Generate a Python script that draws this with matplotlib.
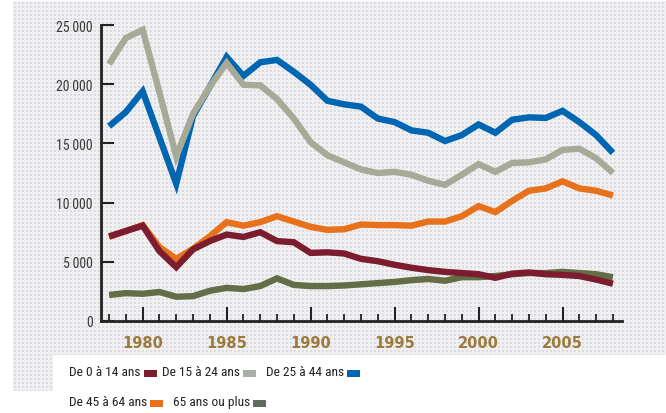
import numpy as np
import matplotlib
matplotlib.use("Agg")
import matplotlib.pyplot as plt
from matplotlib import font_manager
from matplotlib.patches import Rectangle

W, H = 666, 414

years = list(range(1978, 2009))

age_0_14 = [7150, 7600, 8050, 5900, 4550, 6050, 6750, 7300, 7100, 7500, 6750, 6650, 5750,
            5800, 5700, 5250, 5050, 4750, 4500, 4300, 4150, 4050, 3950, 3650, 4000, 4100,
            3950, 3900, 3800, 3500, 3150]
age_15_24 = [21700, 23900, 24600, 19300, 13900, 17500, 19800, 21800, 19950, 19900, 18750,
             17100, 15100, 14000, 13400, 12800, 12500, 12600, 12350, 11850, 11500, 12350,
             13250, 12600, 13350, 13400, 13650, 14450, 14550, 13750, 12500]
age_25_44 = [16450, 17650, 19400, 15500, 11600, 17300, 19800, 22300, 20700, 21850, 22050,
             21050, 19950, 18600, 18300, 18100, 17100, 16800, 16100, 15900, 15200, 15700,
             16600, 15900, 17000, 17200, 17150, 17750, 16800, 15700, 14200]
age_45_64 = [7100, 7600, 8100, 6250, 5250, 6100, 7150, 8350, 8050, 8350, 8850, 8400, 7950,
             7700, 7750, 8150, 8100, 8100, 8050, 8400, 8400, 8850, 9700, 9200, 10150, 11000,
             11200, 11800, 11200, 11000, 10600]
age_65_plus = [2200, 2350, 2300, 2450, 2050, 2100, 2550, 2800, 2700, 2950, 3600, 3050, 2950,
               2950, 3000, 3100, 3200, 3300, 3450, 3550, 3400, 3700, 3700, 3800, 3950, 4050,
               4050, 4150, 4050, 3950, 3700]

labels = ["De 0 à 14 ans", "De 15 à 24 ans", "De 25 à 44 ans", "De 45 à 64 ans", "65 ans ou plus"]
series = [age_0_14, age_15_24, age_25_44, age_45_64, age_65_plus]
colors = ["#7b1d2f", "#a6aa97", "#0066b2", "#e8711c", "#636e47"]
swatch_colors = ["#7b1d2f", "#a9aea8", "#0067b4", "#e8711c", "#616b62"]
zorders = [5, 6, 4, 3, 2]

yticks = [0, 5000, 10000, 15000, 20000, 25000]
ytick_labels = ["0", "5\u202f000", "10\u202f000", "15\u202f000", "20\u202f000", "25\u202f000"]
xticks = [1980, 1985, 1990, 1995, 2000, 2005]

# the reference uses a condensed face; take one if installed
installed = {f.name for f in font_manager.fontManager.ttflist}
narrow_fam = None
for cand in ["Liberation Sans Narrow", "Roboto Condensed", "Open Sans Condensed",
             "DejaVu Sans Condensed", "Noto Sans Condensed"]:
    if cand in installed:
        narrow_fam = cand
        break
if narrow_fam is None:
    narrow_fam = "Liberation Sans" if "Liberation Sans" in installed else "DejaVu Sans"
    tick_fs, leg_fs = 9.0, 8.5
else:
    tick_fs, leg_fs = 10, 9.6
narrow = [narrow_fam, "DejaVu Sans"]

fig = plt.figure(figsize=(W / 100, H / 100), dpi=100)
fig.patch.set_facecolor("white")


def px(x, y):
    return x / W, 1 - y / H


# dotted grey background
bx0, by0, bx1, by1 = 13, 2, 666, 392
bg = np.empty((by1 - by0, bx1 - bx0, 3))
bg[:] = (0.945, 0.945, 0.955)
bg[1::4, 1::4] = (0.84, 0.84, 0.855)
bg[2::4, 1::4] = (0.87, 0.87, 0.88)
bg[1::4, 2::4] = (0.87, 0.87, 0.88)
bg[2::4, 2::4] = (0.87, 0.87, 0.88)
fig.figimage(bg, xo=bx0, yo=H - by1, zorder=-2, origin="upper")

# white box behind the legend
lx, ly = px(53, 414)
fig.patches.append(Rectangle((lx, ly), 1 - lx, 58 / H, transform=fig.transFigure,
                             facecolor="white", edgecolor="none", zorder=-1))

left, bottom = px(101, 322)
right, top = px(622, 26)
ax = fig.add_axes([left, bottom, right - left, top - bottom])
ax.set_facecolor("none")

for vals, lab, col, z in zip(series, labels, colors, zorders):
    ax.plot(years, vals, color=col, lw=4.6, label=lab, zorder=z,
            solid_joinstyle="miter", solid_capstyle="butt")

ax.set_xlim(1977.52, 2008.54)
ax.set_ylim(0, 25000)
for s in ["top", "right"]:
    ax.spines[s].set_visible(False)
for s in ["left", "bottom"]:
    ax.spines[s].set_linewidth(2)
    ax.spines[s].set_color("#222222")

ax.set_yticks(yticks)
ax.set_yticklabels(ytick_labels, family=narrow, fontsize=tick_fs, color="#3a3a3a")
ax.tick_params(axis="y", direction="in", length=9.5, width=1.5, color="#222222", pad=6)

ax.set_xticks(xticks)
ax.set_xticks(years, minor=True)
ax.set_xticklabels([str(y) for y in xticks], fontsize=10.5, fontweight="bold", color="#9b7a3c")
ax.tick_params(axis="x", which="major", direction="in", length=10, width=1.5,
               color="#222222", pad=10)
ax.tick_params(axis="x", which="minor", direction="in", length=5, width=1.3, color="#222222")

# legend: label text followed by a small colour swatch
legend_pos = [(69, 373), (162, 373), (266, 373), (69, 403), (173, 403)]
texts = []
for lab, (x, y) in zip(labels, legend_pos):
    fx, fy = px(x, y)
    texts.append(fig.text(fx, fy, lab, family=narrow, fontsize=leg_fs, color="#222222",
                          ha="left", va="center"))

fig.canvas.draw()
renderer = fig.canvas.get_renderer()
for t, col, (x, y) in zip(texts, swatch_colors, legend_pos):
    bb = t.get_window_extent(renderer)
    sw, sh = 13, 7
    fig.patches.append(Rectangle(((bb.x1 + 3) / W, (H - y - sh / 2 - 1) / H), sw / W, sh / H,
                                 transform=fig.transFigure, facecolor=col,
                                 edgecolor="none"))

fig.savefig("out.png", dpi=100)
